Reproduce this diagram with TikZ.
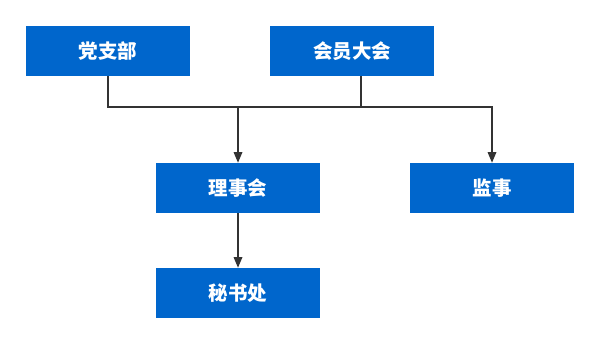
\documentclass[tikz,border=0pt]{standalone}
\usepackage{fontspec}
\newfontfamily\cjk{Noto Sans CJK SC}
\usepackage{tikz}
\usetikzlibrary{arrows.meta,positioning}
\definecolor{orgblue}{HTML}{0066CC}
\definecolor{linkgray}{HTML}{333333}

\begin{document}
\begin{tikzpicture}[x=0.75pt,y=-0.75pt,
    org/.style={fill=orgblue,text=white,minimum width=123pt,minimum height=37.5pt,
      inner sep=0pt,font=\cjk\bfseries\fontsize{14.6}{16}\selectfont},
    link/.style={draw=linkgray,line width=0.9pt},
    tip/.style={-{Triangle[length=8pt,width=6.5pt]}}]
        \useasboundingbox (0,0) rectangle (600,344);
        \node[org] (party) at (108,51) {党支部};
        \node[org] (assembly) at (352,51) {会员大会};
        \node[org] (council) at (238,188) {理事会};
        \node[org] (supervisor) at (492,188) {监事};
        \node[org] (secretariat) at (238,293) {秘书处};
        \coordinate (bus) at (0,107);
        \coordinate (drop) at ([xshift=6.75pt]assembly.south);
        \draw[link,tip] (party.south) |- (supervisor.north |- bus) -- (supervisor.north);
        \draw[link] (drop) -- (drop |- bus);
        \draw[link,tip] (council.north |- bus) -- (council.north);
        \draw[link,tip] (council) -- (secretariat);
      \end{tikzpicture}
\end{document}
